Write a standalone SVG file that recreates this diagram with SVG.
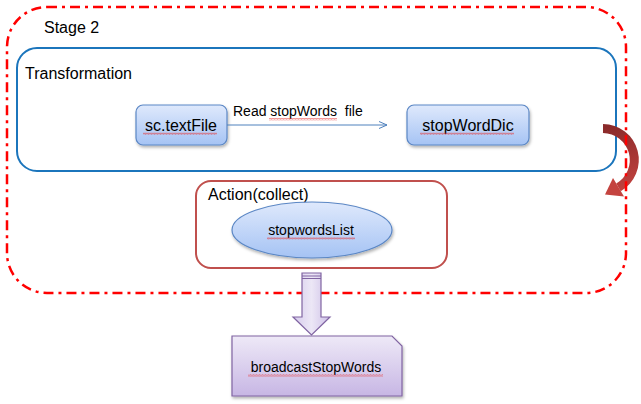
<svg xmlns="http://www.w3.org/2000/svg" width="641" height="404" viewBox="0 0 641 404">
<style>
text{font-family:"Liberation Sans",Arial,sans-serif;fill:#000}
.lbl{font-size:16px}
.nt{font-size:16px;text-anchor:middle}
.sm{font-size:14px}
.smc{font-size:14px;text-anchor:middle}
.node{fill:url(#blueG);stroke:#5b87c5;stroke-width:1.2}
.wave{fill:url(#wave)}
</style>
<defs>
<linearGradient id="blueG" x1="0" y1="0" x2="0" y2="1">
<stop offset="0" stop-color="#dfe9fc"/>
<stop offset="1" stop-color="#a5c3f4"/>
</linearGradient>
<linearGradient id="purpG" x1="0" y1="0" x2="0" y2="1">
<stop offset="0" stop-color="#eee9f7"/>
<stop offset="1" stop-color="#c7b6e4"/>
</linearGradient>
<linearGradient id="purpH" x1="0" y1="0" x2="1" y2="0">
<stop offset="0" stop-color="#d6cbec"/>
<stop offset="0.5" stop-color="#ece7f6"/>
<stop offset="1" stop-color="#cdbfe7"/>
</linearGradient>
<linearGradient id="redG" gradientUnits="userSpaceOnUse" x1="603" y1="128" x2="625" y2="195">
<stop offset="0" stop-color="#8a2a2a"/>
<stop offset="1" stop-color="#c4433f"/>
</linearGradient>
<pattern id="wave" width="3" height="2.5" patternUnits="userSpaceOnUse">
<path d="M0 2 L0.75 0.5 L1.5 2 L2.25 0.5 L3 2" fill="none" stroke="#e83030" stroke-width="0.5"/>
</pattern>
<filter id="sh" x="-10%" y="-10%" width="130%" height="140%">
<feDropShadow dx="1" dy="2" stdDeviation="1.5" flood-color="#000" flood-opacity="0.3"/>
</filter>
<marker id="open" markerWidth="10" markerHeight="10" refX="9" refY="5" orient="auto" markerUnits="userSpaceOnUse">
<path d="M1 1.5 L9 5 L1 8.5" fill="none" stroke="#4f81bd" stroke-width="1"/>
</marker>
</defs>

<g id="transformation">
<rect x="17" y="48" width="599" height="123" rx="20" fill="#fff" stroke="#1b75bc" stroke-width="2"/>
<text class="lbl" x="25" y="79">Transformation</text>
</g>

<g id="sc-textFile">
<rect class="node" x="136" y="105" width="91" height="40" rx="7" filter="url(#sh)"/>
<text class="nt" x="181" y="131">sc.textFile</text>
<rect class="wave" x="143" y="132.5" width="74" height="2.5"/>
</g>

<g id="stopWordDic">
<rect class="node" x="407" y="105" width="122" height="40" rx="7" filter="url(#sh)"/>
<text class="nt" x="468" y="131">stopWordDic</text>
<rect class="wave" x="420" y="132.5" width="94" height="2.5"/>
</g>

<g id="action">
<rect x="196" y="181" width="251" height="87" rx="15" fill="#fff" stroke="#c0504d" stroke-width="2"/>
<text class="lbl" x="208" y="200">Action(collect)</text>
</g>

<g id="stopwordsList">
<ellipse cx="312" cy="230" rx="80" ry="28" fill="url(#blueG)" stroke="#5b87c5" stroke-width="1.2" filter="url(#sh)"/>
<text class="smc" x="311" y="235">stopwordsList</text>
<rect class="wave" x="267" y="237" width="88" height="2.5"/>
</g>

<g id="connectors">
<line x1="227" y1="125" x2="387" y2="125" stroke="#4f81bd" stroke-width="1" marker-end="url(#open)"/>
<text class="sm" x="233" y="116" xml:space="preserve" style="white-space:pre">Read stopWords  file</text>
<rect class="wave" x="269" y="118" width="68" height="2.5"/>
<g id="loop-arrow">
<path d="M603 128.5 A31.5 31.5 0 0 1 618.5 187.3" fill="none" stroke="url(#redG)" stroke-width="9"/>
<path d="M624 196.5 L605 194.5 L613 178 Z" fill="#c4433f"/>
</g>
</g>

<g id="stage2">
<rect x="7" y="7" width="619" height="286" rx="40" fill="none" stroke="#ff0000" stroke-width="2.5" stroke-dasharray="10 5 3 5"/>
<text class="lbl" x="44" y="33">Stage 2</text>
</g>

<g id="down-arrow">
<path d="M302 273 H321 V317 H330 L311.5 335 L293 317 H302 Z" fill="url(#purpH)" stroke="#8064a2" stroke-width="1.2"/>
<line x1="302" y1="276" x2="321" y2="276" stroke="#8064a2" stroke-width="1"/>
<line x1="302" y1="278.5" x2="321" y2="278.5" stroke="#8064a2" stroke-width="1"/>
</g>

<g id="broadcastStopWords">
<path d="M232 336 H392 L402 346 V396 H232 Z" fill="url(#purpG)" stroke="#8064a2" stroke-width="1.2" filter="url(#sh)"/>
<text class="smc" x="316" y="372">broadcastStopWords</text>
<rect class="wave" x="248" y="374" width="135" height="2.5"/>
</g>
</svg>
